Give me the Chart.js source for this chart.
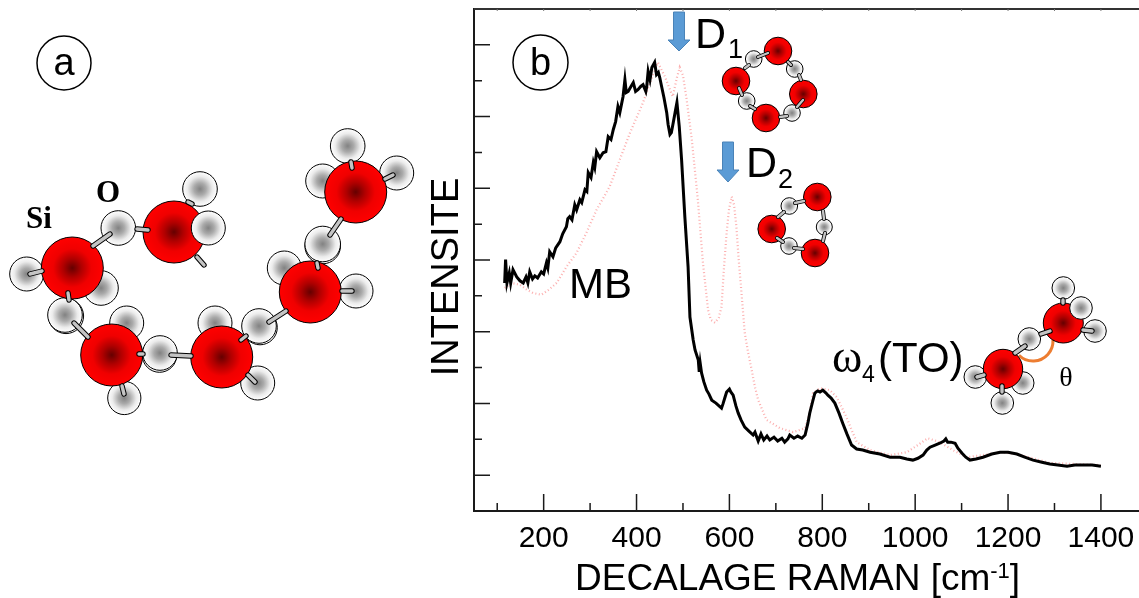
<!DOCTYPE html>
<html>
<head>
<meta charset="utf-8">
<title>Spectre Raman</title>
<script src="https://cdn.jsdelivr.net/npm/chart.js@4"></script>
<style>
  html, body { margin: 0; padding: 0; background: #fff; }
  #wrap { position: relative; width: 1139px; height: 598px; overflow: hidden; }
  canvas { position: absolute; left: 0; top: 0; }
</style>
</head>
<body>
<div id="wrap">
  <canvas id="spectre" width="1139" height="598"></canvas>
  <canvas id="dessin" width="1139" height="598"></canvas>
</div>
<script>
// spectres
const blackX = [116,118,121,126,129,134,142,149,156,162,166,170,176,181,187,195,200,206,209,213,220,226,235,241,249,252,256,261,267,271,278,282,289,293,296,302,307,310,314,321,328,334,339,345,350,355,360,364,371,375,378,382,388,393,398,403,409,414,420,422,425,429,433,439,443,447,450,454,459,465,468,472,475,479,483,487,492,497,504,511,515,522,526,533,535,537,540,545,551,556,562,571,583,586,590,594,600,603,608,614,619,625,633,642,651,655,662,668,674,681,687,696,704,713,719,726,730,739,747,756,763,769,773,779,784,790,795,801,808,812,819,827,836,844,853,863,874,887,903,924,946,967,982,995,1006,1017,1025,1032,1043,1053,1062,1066,1070,1077,1086,1092,1101,1109,1118,1131,1146,1165,1183,1200,1219,1236,1254,1273,1290,1307,1327,1344,1361,1381,1400];
const blackY = [5.36,6.01,5.36,5.64,5.36,5.73,5.53,5.42,5.36,5.53,5.36,5.67,5.47,5.56,5.50,5.67,5.61,5.92,5.78,6.23,6.09,6.34,6.51,6.73,6.93,7.15,7.21,7.12,7.54,7.40,7.68,7.60,7.96,7.91,8.44,8.30,8.72,8.58,9.02,8.85,8.99,9.02,9.44,9.36,9.64,9.86,10.28,10.11,10.56,11.03,10.67,10.70,10.84,10.95,10.70,10.75,10.84,10.89,10.70,10.84,11.26,11.03,11.37,11.51,11.17,11.23,11.09,10.84,10.53,10.11,9.78,9.50,9.55,9.83,10.11,10.39,9.72,8.80,7.21,5.81,4.41,3.77,3.49,3.21,2.88,3.13,2.85,2.60,2.37,2.26,2.09,2.01,1.87,1.98,2.15,2.32,2.40,2.32,2.23,1.93,1.73,1.54,1.34,1.23,1.12,1.20,0.95,1.15,0.98,1.09,0.98,1.06,0.95,1.03,0.92,1.01,1.12,1.03,1.09,1.03,1.12,1.45,1.73,2.04,2.29,2.35,2.32,2.37,2.29,2.23,2.15,2.01,1.73,1.45,1.15,0.84,0.73,0.70,0.64,0.59,0.50,0.50,0.45,0.42,0.47,0.56,0.70,0.78,0.84,0.89,0.95,1.01,0.92,0.92,0.89,0.75,0.61,0.50,0.42,0.45,0.50,0.59,0.64,0.64,0.59,0.50,0.42,0.36,0.31,0.28,0.25,0.28,0.28,0.28,0.25];
const redX = [116,131,149,164,177,195,211,228,249,271,292,314,342,364,386,414,429,446,461,472,478,487,493,500,508,519,532,543,554,560,569,577,583,588,594,599,605,610,615,620,626,633,640,648,655,662,680,709,737,763,773,780,795,816,831,852,874,903,946,982,1006,1027,1053,1081,1111,1146,1183,1219,1290,1400];
const redY = [5.22,5.36,5.31,5.17,5.08,5.03,5.17,5.36,5.81,6.20,6.76,7.40,8.04,8.80,9.55,10.39,10.95,11.51,11.12,10.75,10.56,11.09,11.37,11.15,10.47,9.36,7.68,5.92,4.61,4.33,4.25,4.39,4.69,5.73,6.76,7.40,7.77,7.54,6.93,6.01,5.08,3.97,3.44,2.93,2.46,2.09,1.54,1.31,1.20,1.31,1.76,2.29,2.43,2.37,2.18,1.62,0.92,0.70,0.56,0.64,0.84,1.03,0.92,0.70,0.50,0.56,0.64,0.59,0.34,0.28];
const xTicks = [100,200,300,400,500,600,700,800,900,1000,1100,1200,1300,1400];
const xLabels = [200,400,600,800,1000,1200,1400];
const yTicks = [-1,0,1,2,3,4,5,6,7,8,9,10,11,12,13];

// atomes de la figure, en pixels de page : [x, y, r]
const atomsBack = [
  [200,189,17.3],[26.7,274,17],[101,288,17.3],[66,316,17.6],[65,315,17.3],[126.7,323,17],[124.3,398,16.6],
  [159.5,355,17.3],[160,353,17.3],[215,323,17],[257.7,383,17],[260,327.5,17.3],[259,326,17.3],[284.3,268,17],
  [356,291,17],[322.7,246,17.8],[322.7,244,17.8],[347.7,146,17.3],[322.7,181,17],[396.7,173,17],
  [118.3,228,17.3],
  [753.7,59,8.3],[794.7,69,8.3],[746.7,101,8.3],[792,113,8.3],
  [789.3,206,8.3],[824.3,227,8],[789,246,8.3],
  [975.3,377,11.3],[1002.3,403,11.3],[1022.7,383,11.3],[1029.3,339,11.3],[1063.3,288,11.3],[1095,331,11.3]
];
const atomsSi = [
  [72.3,268,31],[174,232,31],[111.7,355,31],[221.7,357,31],[310.3,292,31],[355.7,192,31],
  [778,51,13.8],[736,81,13.8],[803.3,94,13.8],[766,118,13.8],
  [817.3,197,13.8],[771.7,229,13.8],[815,253,13.8],
  [1003,369,19.7],[1063.3,323,20]
];
const atomsFront = [[208.3,228,17],[1081,308,11.3]];
const badges = [[64,63,27],[540.5,62.5,27.5]];

// liaisons : [x1, y1, x2, y2]
const bondsBig = [
  [30,274,42,271],[93,246,110,234],[137,229,148,230],[188,202,192,204],[197,257,204,265],
  [68,293,69,300],[74,323,88,337],[139,354,143,354],[171,355,191,356],[122,386,124,394],
  [241,340,246,336],[248,375,255,382],[269,322,286,311],[342,291,352,291],[317,263,318,268],[330,235,341,219],
  [351,162,352,168],[385,179,393,175],
  [1015,353,1025,346],[1041,334,1050,331],[977,377,984,375],[1002,386,1002,392],[1063,300,1063,303],[1083,330,1092,331]
];
const bondsSmall = [
  [745,68,749,65],[758,57,768,53],[788,62,791,65],[799,75,801,80],[739,88,742,95],[750,106,755,109],
  [780,117,787,116],[797,107,803,100],
  [778,217,784,212],[795,203,804,201],[823,211,824,219],[825,233,823,241],[777,238,783,242],[794,248,803,249]
];

const arrows = [[679,12,51,40],[728,142,182,170]];

const HEIGHT = 598, WIDTH = 1139;
const tickColor = '#1a1a1a';

const axisMarks = {
  id: 'axisMarks',
  afterDraw(chart) {
    const { ctx, chartArea: a, scales } = chart;
    ctx.save();
    ctx.strokeStyle = tickColor;
    ctx.lineWidth = 1.5;
    ctx.beginPath();
    xTicks.forEach(v => {
      const p = scales.x.getPixelForValue(v);
      ctx.moveTo(p, a.bottom);
      ctx.lineTo(p, a.bottom - (xLabels.includes(v) ? 17 : 8));
    });
    yTicks.forEach(v => {
      const p = scales.y.getPixelForValue(v);
      ctx.moveTo(a.left, p);
      ctx.lineTo(a.left + (v % 2 === 0 ? 16 : 8), p);
    });
    ctx.stroke();
    ctx.lineWidth = 2;
    ctx.strokeStyle = '#333';
    ctx.beginPath();
    ctx.moveTo(a.left, a.top);
    ctx.lineTo(a.right, a.top);
    ctx.stroke();
    ctx.lineWidth = 1;
    ctx.strokeStyle = '#777';
    ctx.beginPath();
    xTicks.forEach(v => {
      const p = scales.x.getPixelForValue(v);
      ctx.moveTo(p, a.top);
      ctx.lineTo(p, a.top + 2);
    });
    ctx.stroke();
    ctx.restore();
  }
};

new Chart(document.getElementById('spectre'), {
  type: 'line',
  data: {
    datasets: [
      {
        label: 'noir',
        data: blackX.map((x, i) => ({ x: x, y: blackY[i] })),
        borderColor: '#000',
        borderWidth: 3,
        pointRadius: 0,
        tension: 0
      },
      {
        label: 'rouge',
        data: redX.map((x, i) => ({ x: x, y: redY[i] })),
        borderColor: 'rgba(250,120,120,0.6)',
        borderWidth: 2.2,
        borderDash: [1, 2.5],
        pointRadius: 0,
        tension: 0
      }
    ]
  },
  options: {
    responsive: false,
    animation: false,
    events: [],
    layout: { padding: { top: 9, right: 0, bottom: 0, left: 0 } },
    plugins: { legend: { display: false }, tooltip: { enabled: false } },
    scales: {
      x: {
        type: 'linear',
        min: 50,
        max: 1482,
        afterBuildTicks: axis => { axis.ticks = xTicks.map(v => ({ value: v })); },
        afterFit: axis => { axis.height = 87; axis.paddingLeft = 0; axis.paddingRight = 0; },
        grid: { drawOnChartArea: false, drawTicks: false },
        border: { display: true, color: tickColor, width: 2 },
        ticks: {
          autoSkip: false,
          maxRotation: 0,
          padding: 10,
          color: '#000',
          font: { family: 'Liberation Sans', size: 30 },
          callback: v => xLabels.includes(v) ? String(v) : ''
        }
      },
      y: {
        min: -1,
        max: 13,
        afterBuildTicks: axis => { axis.ticks = yTicks.map(v => ({ value: v })); },
        afterFit: axis => { axis.width = 474; },
        grid: { drawOnChartArea: false, drawTicks: false },
        border: { display: true, color: tickColor, width: 2 },
        ticks: { display: false }
      }
    }
  },
  plugins: [axisMarks]
});

const toPoints = list => list.map(a => ({ x: a[0], y: a[1], r: a[2] }));
const toBonds = list => {
  const pts = [];
  list.forEach(b => {
    pts.push({ x: b[0], y: b[1] }, { x: b[2], y: b[3] }, { x: b[2], y: null });
  });
  return pts;
};

function shaded(stops) {
  return function (c) {
    const d = c.raw, s = c.chart.scales;
    if (!d) return stops[0][1];
    const px = s.x.getPixelForValue(d.x), py = s.y.getPixelForValue(d.y);
    if (!isFinite(px) || !isFinite(py)) return stops[0][1];
    const g = c.chart.ctx.createRadialGradient(px, py, 0, px, py, d.r);
    stops.forEach(t => g.addColorStop(t[0], t[1]));
    return g;
  };
}
const siFill = shaded([[0, '#650000'], [0.3, '#b00000'], [0.62, '#f00000'], [1, '#ff0000']]);
const oFill = shaded([[0, '#828282'], [0.35, '#aaaaaa'], [0.72, '#ebebeb'], [1, '#ffffff']]);

const bondLine = (list, width, color, order) => ({
  type: 'line',
  data: toBonds(list),
  borderColor: color,
  borderWidth: width,
  borderCapStyle: 'round',
  pointRadius: 0,
  spanGaps: false,
  clip: false,
  order: order
});

const annotations = {
  id: 'annotations',
  beforeDatasetsDraw(chart) {
    const { ctx, scales } = chart;
    const X = v => scales.x.getPixelForValue(v), Y = v => scales.y.getPixelForValue(v);
    ctx.save();
    arrows.forEach(([cx, top, tip, base]) => {
      ctx.beginPath();
      ctx.moveTo(X(cx - 5.5), Y(top));
      ctx.lineTo(X(cx + 5.5), Y(top));
      ctx.lineTo(X(cx + 5.5), Y(base));
      ctx.lineTo(X(cx + 11), Y(base));
      ctx.lineTo(X(cx), Y(tip));
      ctx.lineTo(X(cx - 11), Y(base));
      ctx.lineTo(X(cx - 5.5), Y(base));
      ctx.closePath();
      ctx.fillStyle = '#5b9bd5';
      ctx.fill();
      ctx.strokeStyle = '#4a83b8';
      ctx.lineWidth = 1;
      ctx.stroke();
    });
    ctx.beginPath();
    ctx.arc(X(1033), Y(341), 20, -0.05, 2.35);
    ctx.strokeStyle = '#ed7d31';
    ctx.lineWidth = 3;
    ctx.stroke();
    ctx.restore();
  },
  afterDatasetsDraw(chart) {
    const { ctx, scales } = chart;
    const X = v => scales.x.getPixelForValue(v), Y = v => scales.y.getPixelForValue(v);
    const text = (s, x, y, font, align) => {
      ctx.font = font;
      ctx.textAlign = align || 'left';
      ctx.textBaseline = 'alphabetic';
      ctx.fillStyle = '#000';
      ctx.fillText(s, X(x), Y(y));
    };
    const sans = s => s + 'px "Liberation Sans"';
    const serif = s => s + 'px "Liberation Serif"';
    ctx.save();
    text('a', 64, 75, sans(38), 'center');
    text('b', 540.5, 75, sans(38), 'center');
    text('Si', 26, 228, 'bold ' + serif(31));
    text('O', 96, 202, 'bold ' + serif(31));
    text('D', 695, 48, sans(43));
    text('1', 728, 58, sans(27));
    text('D', 746, 177, sans(43));
    text('2', 778, 188, sans(27));
    text('MB', 569, 298, sans(42));
    text('ω', 832, 372, serif(46));
    text('4', 862, 382, sans(23));
    text('(TO)', 878, 372, sans(42));
    text('θ', 1066, 386, serif(28), 'center');
    // titres des axes, pour garder le exposant en petit
    text('DECALAGE RAMAN [cm', 575, 590, sans(37));
    let after = 575 + ctx.measureText('DECALAGE RAMAN [cm').width;
    text('-1', after, 578, sans(22));
    after += ctx.measureText('-1').width;
    text(']', after, 590, sans(37));
    ctx.translate(X(458), Y(277));
    ctx.rotate(-Math.PI / 2);
    ctx.font = sans(38);
    ctx.textAlign = 'center';
    ctx.fillText('INTENSITE', 0, 0);
    ctx.restore();
  }
};

new Chart(document.getElementById('dessin'), {
  type: 'bubble',
  data: {
    datasets: [
      { data: toPoints(badges), backgroundColor: '#fff', borderColor: '#000', borderWidth: 1.5, clip: false, order: 7 },
      bondLine(bondsBig, 3.4, '#c4c4c4', 1),
      bondLine(bondsBig, 5.4, '#000', 2),
      bondLine(bondsSmall, 2.4, '#c4c4c4', 3),
      bondLine(bondsSmall, 4, '#000', 4),
      { data: toPoints(atomsFront), backgroundColor: oFill, borderColor: '#000', borderWidth: 1, clip: false, order: 5 },
      { data: toPoints(atomsSi), backgroundColor: siFill, borderColor: '#000', borderWidth: 1, clip: false, order: 6 },
      { data: toPoints(atomsBack), backgroundColor: oFill, borderColor: '#000', borderWidth: 1, clip: false, order: 8 }
    ]
  },
  options: {
    responsive: false,
    animation: false,
    events: [],
    layout: { padding: 0, autoPadding: false },
    plugins: { legend: { display: false }, tooltip: { enabled: false } },
    scales: {
      x: { type: 'linear', display: false, min: 0, max: WIDTH },
      y: { type: 'linear', display: false, min: 0, max: HEIGHT, reverse: true }
    }
  },
  plugins: [annotations]
});
</script>
</body>
</html>
